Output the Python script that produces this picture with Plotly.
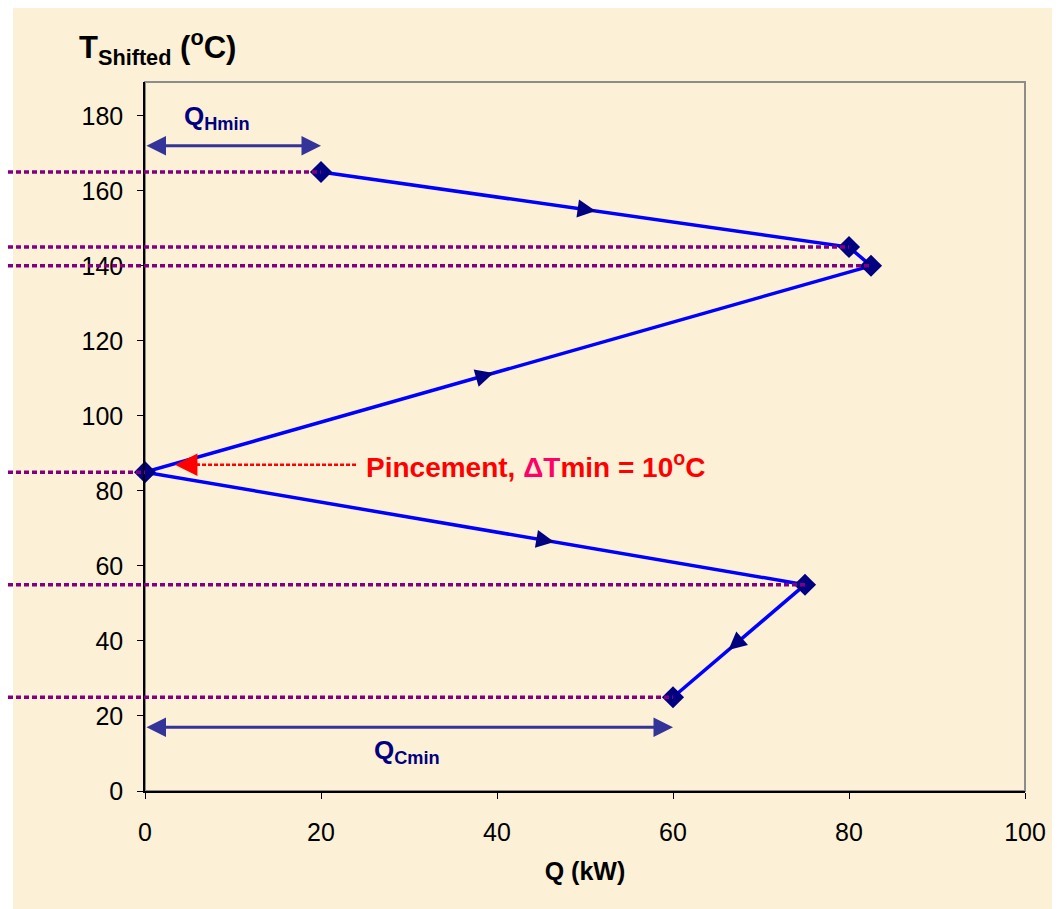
import plotly.graph_objects as go

# ---- data ----
q_kw = [20, 80, 82.5, 0, 75, 60]
t_shifted = [165, 145, 140, 85, 55, 25]
arrow_segments = [0, 2, 3, 4]          # segments carrying a direction arrow
arrow_fracs = [0.52, 0.52, 0.62, 0.58]  # position along segment
arrow_dirs = [1, -1, 1, 1]              # +1: towards next point, -1: towards previous
qhmin_q = [0, 20]
qhmin_t = 172
qcmin_q = [0, 60]
qcmin_t = 17
pinch_t = 87
pinch_q = [3.4, 24]
x_ticks = [0, 20, 40, 60, 80, 100]
y_ticks = [0, 20, 40, 60, 80, 100, 120, 140, 160, 180]

X_RANGE = [0, 100]
Y_RANGE = [0, 189]

CREAM = "#FCF1D7"
NAVY = "#000080"
ARROWBLUE = "#333399"
PURPLE = "#800080"
FONT = "Arial, Liberation Sans, sans-serif"

OFF = 8  # page body margin
W, H = 1052, 901
ML, MR, MT, MB = 137, 35, 74, 118
PW, PH = W - ML - MR, H - MT - MB
TAIL_PX = 10  # length of the tiny tail behind direction arrowheads


def px_to_paper_x(px):
    return (px - OFF - ML) / PW


def px_to_paper_y(py):
    return (H - MB - (py - OFF)) / PH


def q_to_paper(q):
    return (q - X_RANGE[0]) / (X_RANGE[1] - X_RANGE[0])


sx = PW / (X_RANGE[1] - X_RANGE[0])
sy = PH / (Y_RANGE[1] - Y_RANGE[0])

fig = go.Figure()
fig.add_trace(go.Scatter(
    x=q_kw, y=t_shifted, mode="lines+markers",
    line=dict(color="#0000FF", width=3.5),
    marker=dict(symbol="diamond", size=17, color=NAVY),
    cliponaxis=False, showlegend=False, hoverinfo="skip",
))

shapes = []
# cream background panel
shapes.append(dict(type="rect", xref="paper", yref="paper",
                   x0=px_to_paper_x(13), x1=px_to_paper_x(1075),
                   y0=px_to_paper_y(920), y1=px_to_paper_y(5),
                   fillcolor=CREAM, line=dict(width=0), layer="below"))
# plot frame
shapes.append(dict(type="rect", xref="paper", yref="paper", x0=0, x1=1, y0=0, y1=1,
                   line=dict(color="#8C8C8C", width=2), layer="below"))
# dotted purple guide lines
for q, t in zip(q_kw, t_shifted):
    shapes.append(dict(type="line", xref="paper", yref="y",
                       x0=px_to_paper_x(0), x1=q_to_paper(q), y0=t, y1=t,
                       line=dict(color=PURPLE, width=3.5, dash="5px,3px")))
# pinch dotted red line
shapes.append(dict(type="line", xref="x", yref="y",
                   x0=pinch_q[0] + 2.4, x1=pinch_q[1], y0=pinch_t, y1=pinch_t,
                   line=dict(color="#FF0000", width=2.5, dash="4px,2px")))

annotations = []
# direction arrows on the curve
for seg, f, d in zip(arrow_segments, arrow_fracs, arrow_dirs):
    x0, y0 = q_kw[seg], t_shifted[seg]
    x1, y1 = q_kw[seg + 1], t_shifted[seg + 1]
    seg_px = (((x1 - x0) * sx) ** 2 + ((y1 - y0) * sy) ** 2) ** 0.5
    tipx, tipy = x0 + f * (x1 - x0), y0 + f * (y1 - y0)
    g = f - d * TAIL_PX / seg_px
    tx, ty = x0 + g * (x1 - x0), y0 + g * (y1 - y0)
    annotations.append(dict(x=tipx, y=tipy, ax=tx, ay=ty, xref="x", yref="y",
                            axref="x", ayref="y", text="", showarrow=True,
                            arrowhead=2, arrowsize=1.8, arrowwidth=2,
                            arrowcolor=NAVY))
# Q_Hmin / Q_Cmin double arrows
for qs, t in [(qhmin_q, qhmin_t), (qcmin_q, qcmin_t)]:
    annotations.append(dict(x=qs[1], y=t, ax=qs[0], ay=t, xref="x", yref="y",
                            axref="x", ayref="y", text="", showarrow=True,
                            arrowhead=2, startarrowhead=2, arrowside="end+start",
                            arrowsize=1.3, startarrowsize=1.3, arrowwidth=3,
                            arrowcolor=ARROWBLUE))
annotations.append(dict(x=4.2, y=179.5, xref="x", yref="y", xanchor="left",
                        yanchor="middle", showarrow=False,
                        text="<b>Q<sub>Hmin</sub></b>",
                        font=dict(family=FONT, size=26, color=NAVY)))
annotations.append(dict(x=25.8, y=10.5, xref="x", yref="y", xanchor="left",
                        yanchor="middle", showarrow=False,
                        text="<b>Q<sub>Cmin</sub></b>",
                        font=dict(family=FONT, size=26, color=NAVY)))
# pinch arrow head + label
annotations.append(dict(x=pinch_q[0], y=pinch_t, ax=pinch_q[0] + 3, ay=pinch_t,
                        xref="x", yref="y", axref="x", ayref="y", text="",
                        showarrow=True, arrowhead=2, arrowsize=1.8,
                        arrowwidth=2.5, arrowcolor="#FF0000"))
annotations.append(dict(x=pinch_q[1] + 0.9, y=pinch_t, xref="x", yref="y",
                        xanchor="left", yanchor="middle", showarrow=False,
                        text="<b>Pincement, <span style='color:#FF0066'>"
                             "ΔT</span>min = 10<sup>o</sup>C</b>",
                        font=dict(family=FONT, size=28, color="#FF0000")))
# y-axis title
annotations.append(dict(x=px_to_paper_x(77), y=px_to_paper_y(47), xref="paper",
                        yref="paper", xanchor="left", yanchor="middle",
                        showarrow=False,
                        text="<b>T<sub>Shifted</sub> (<sup>o</sup>C)</b>",
                        font=dict(family=FONT, size=31, color="black")))

fig.update_layout(
    width=W, height=H,
    margin=dict(l=ML, r=MR, t=MT, b=MB, pad=0),
    paper_bgcolor="white", plot_bgcolor=CREAM,
    shapes=shapes, annotations=annotations,
    font=dict(family=FONT, color="black"),
    xaxis=dict(range=X_RANGE, tickvals=x_ticks, ticktext=[str(v) for v in x_ticks],
               showgrid=False, zeroline=False, showline=True, linecolor="black",
               linewidth=1.5, ticks="outside", ticklen=6, tickcolor="black",
               tickfont=dict(size=25, family=FONT), ticklabelstandoff=12,
               title=dict(text="<b>Q (kW)</b>", font=dict(size=25, family=FONT),
                          standoff=18)),
    yaxis=dict(range=Y_RANGE, tickvals=y_ticks, ticktext=[str(v) for v in y_ticks],
               showgrid=False, zeroline=False, showline=True, linecolor="black",
               linewidth=1.5, ticks="outside", ticklen=6, tickcolor="black",
               tickfont=dict(size=25, family=FONT), ticklabelstandoff=9),
)

fig.write_html("out.html")
